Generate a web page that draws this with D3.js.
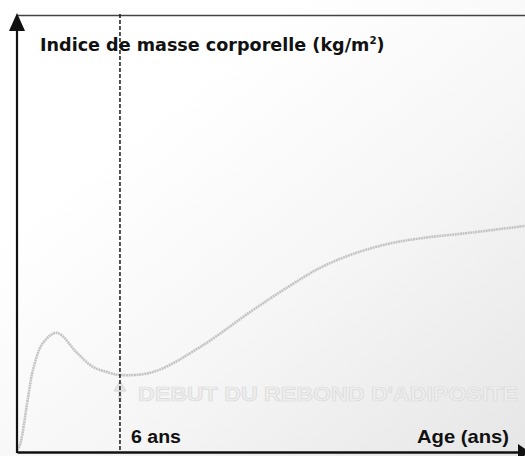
<!DOCTYPE html>
<html><head><meta charset="utf-8">
<script src="https://cdn.jsdelivr.net/npm/d3@7"></script>
<style>html,body{margin:0;padding:0;background:#fff;}svg{display:block;}</style>
</head><body>
<script>
// Data (age in years, BMI in kg/m²)
const ages = [0, 0.17, 0.64, 0.93, 1.51, 2.33, 3.5, 4.43, 5.42, 6.0, 7.92, 10.66, 13.75, 15.73, 17.65, 19.57, 21.55, 23.48, 26.5, 29.6];
const bmi  = [13.0, 13.18, 14.8, 15.76, 16.69, 17.04, 16.35, 15.87, 15.66, 15.59, 15.69, 16.55, 17.83, 18.6, 19.28, 19.76, 20.1, 20.3, 20.5, 20.73];
const reboundAge = 6;
const titleText = "Indice de masse corporelle (kg/m";
const titleSup = "2";
const xLabel = "Age (ans)";
const reboundLabel = "6 ans";
const fadedLabel = "DEBUT DU REBOND D'ADIPOSITE";

const W = 525, H = 456;
const svg = d3.select("body").append("svg").attr("width", W).attr("height", H);

const defs = svg.append("defs");
const g = defs.append("linearGradient").attr("id","bg").attr("x1","0.3").attr("y1","0.25").attr("x2","1").attr("y2","1");
g.append("stop").attr("offset","0").attr("stop-color","#ffffff");
g.append("stop").attr("offset","0.45").attr("stop-color","#f6f6f6");
g.append("stop").attr("offset","1").attr("stop-color","#e6e6e6");
svg.append("rect").attr("width",W).attr("height",H).attr("fill","url(#bg)");

const x = d3.scaleLinear().domain([0, 29.6]).range([17, 525]);
const y = d3.scaleLinear().domain([12.9, 28]).range([453, 15]);

// top border
svg.append("line").attr("x1",17).attr("x2",525).attr("y1",15.5).attr("y2",15.5)
  .attr("stroke","#444").attr("stroke-width",1.5);

// faded label + arrow
svg.append("text").attr("x", x(reboundAge)+18).attr("y", 401)
  .attr("font-family","Liberation Sans, Arial, sans-serif").attr("font-weight","bold")
  .attr("font-size",20).attr("fill","#eeeeee").attr("stroke","#dadada").attr("stroke-width",0.7)
  .attr("textLength",380).attr("lengthAdjust","spacingAndGlyphs")
  .text(fadedLabel);
const ax = x(reboundAge);
svg.append("path").attr("d", `M${ax},381 L${ax-6},391 L${ax+6},391 Z M${ax-1},391 h2 v11 h-2 Z`)
  .attr("fill","#e6e6e6").attr("stroke","#cfcfcf").attr("stroke-width",0.8);

// curve
const pts = ages.map((a,i)=>[a,bmi[i]]);
const line = d3.line().x(d=>x(d[0])).y(d=>y(d[1])).curve(d3.curveCatmullRom.alpha(0.5));
svg.append("path").attr("d", line(pts)).attr("fill","none")
  .attr("stroke","#c4c4c4").attr("stroke-width",2.6).attr("stroke-dasharray","2,0.6");

// dashed vertical at 6 years
svg.append("line").attr("x1",ax).attr("x2",ax).attr("y1",14).attr("y2",452)
  .attr("stroke","#1a1a1a").attr("stroke-width",1.5).attr("stroke-dasharray","4,2");

// x axis
const xAxis = svg.append("g").attr("transform","translate(0,452)")
  .call(d3.axisBottom(x).tickValues([]).tickSizeOuter(0));
xAxis.select(".domain").attr("stroke","#111").attr("stroke-width",2.6);
svg.append("path").attr("d","M518,444 L530,452 L518,460 Z").attr("fill","#111");

// y axis
const yAxis = svg.append("g").attr("transform","translate(17,0)")
  .call(d3.axisLeft(y).tickValues([]).tickSizeOuter(0));
yAxis.select(".domain").attr("stroke","#111").attr("stroke-width",2.2);
yAxis.select(".domain").attr("d", `M0,453V28`);
svg.append("path").attr("d","M9,31 L17,13 L25,31 Z").attr("fill","#111");

// title
const t = svg.append("text").attr("x",40).attr("y",51)
  .attr("font-family","DejaVu Sans, Verdana, sans-serif").attr("font-weight","bold")
  .attr("font-size",17).attr("fill","#111");
t.append("tspan").text(titleText);
t.append("tspan").attr("font-size",10).attr("dy",-7).text(titleSup);
t.append("tspan").attr("dy",7).text(")");
{
  const w = t.node().getBBox().width;
  if (w > 0) t.attr("transform", `translate(40,0) scale(${345/w},1) translate(-40,0)`);
}

svg.append("text").attr("x",131).attr("y",443)
  .attr("font-family","Liberation Sans, Arial, sans-serif").attr("font-weight","bold")
  .attr("font-size",18).attr("fill","#111").text(reboundLabel)
  .attr("textLength",50).attr("lengthAdjust","spacingAndGlyphs");
svg.append("text").attr("x",417).attr("y",443)
  .attr("font-family","Liberation Sans, Arial, sans-serif").attr("font-weight","bold")
  .attr("font-size",18.5).attr("fill","#111").text(xLabel)
  .attr("textLength",92).attr("lengthAdjust","spacingAndGlyphs");
</script>
</body></html>
